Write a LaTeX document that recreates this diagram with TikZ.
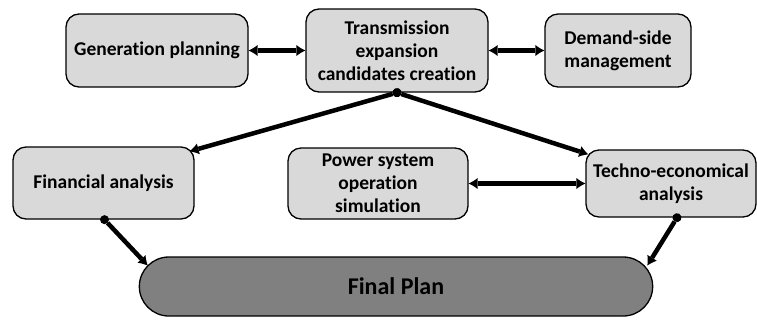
\documentclass[tikz,border=0pt]{standalone}
\usepackage{fontspec}
\setmainfont[Ligatures=NoCommon]{Carlito}
\usetikzlibrary{arrows.meta,shapes.misc,calc}
\definecolor{boxgray}{HTML}{D9D9D9}
\definecolor{plangray}{HTML}{808080}
\tikzset{
  stagebox/.style={draw=black, line width=1.3pt, fill=boxgray, rounded corners=13pt,
    align=center, font=\bfseries\fontsize{19.5}{23}\selectfont, inner sep=0pt},
  planbox/.style={draw=black, line width=1.3pt, fill=plangray, rounded rectangle,
    minimum width=520pt, minimum height=59pt, font=\bfseries\fontsize{24}{28}\selectfont},
  flow/.style={draw=black, line width=4.5pt},
  fromdot/.style={shorten <=-4.5pt},
  dottip/.tip={Circle[length=9pt, line width=0pt]},
  headtip/.tip={Latex[length=9pt, width=11pt, line width=0pt]}
}
\begin{document}
\begin{tikzpicture}[x=1pt,y=-1pt]
  \useasboundingbox (0,0) rectangle (757,322);
  % planning stages
  \node[stagebox, minimum width=182pt, minimum height=73pt] (G) at (157,50.5) {Generation planning};
  \node[stagebox, minimum width=182pt, minimum height=83pt] (T) at (397,50.5) {Transmission\\expansion\\candidates creation};
  \node[stagebox, minimum width=146pt, minimum height=73pt] (D) at (618,50.5) {Demand-side\\management};
  \node[stagebox, minimum width=181pt, minimum height=72pt] (F) at (103.5,183) {Financial analysis};
  \node[stagebox, minimum width=180pt, minimum height=71pt] (S) at (378,183.5) {Power system\\operation\\simulation};
  \node[stagebox, minimum width=170pt, minimum height=67pt] (E) at (671,183.5) {Techno-economical\\analysis};
  \node[planbox] (P) at (396,286.5) {Final Plan};
  % information flow
  \draw[flow, headtip-headtip] (G.east) -- (T.west);
  \draw[flow, headtip-headtip] (T.east) -- (D.west);
  \draw[flow, headtip-headtip] (S.east) -- (E.west);
  \draw[flow, fromdot, dottip-headtip] (T.south) -- ($(F.north east)+(-5,5)$);
  \draw[flow, fromdot, dottip-headtip] (T.south) -- ($(E.north west)+(3,5)$);
  \draw[flow, fromdot, dottip-headtip] ($(F.south)+(1,0)$) -- ($(P.west)+(9,-21)$);
  \draw[flow, fromdot, dottip-headtip] ($(E.south)+(6,0)$) -- ($(P.east)+(-6,-21)$);
\end{tikzpicture}
\end{document}
